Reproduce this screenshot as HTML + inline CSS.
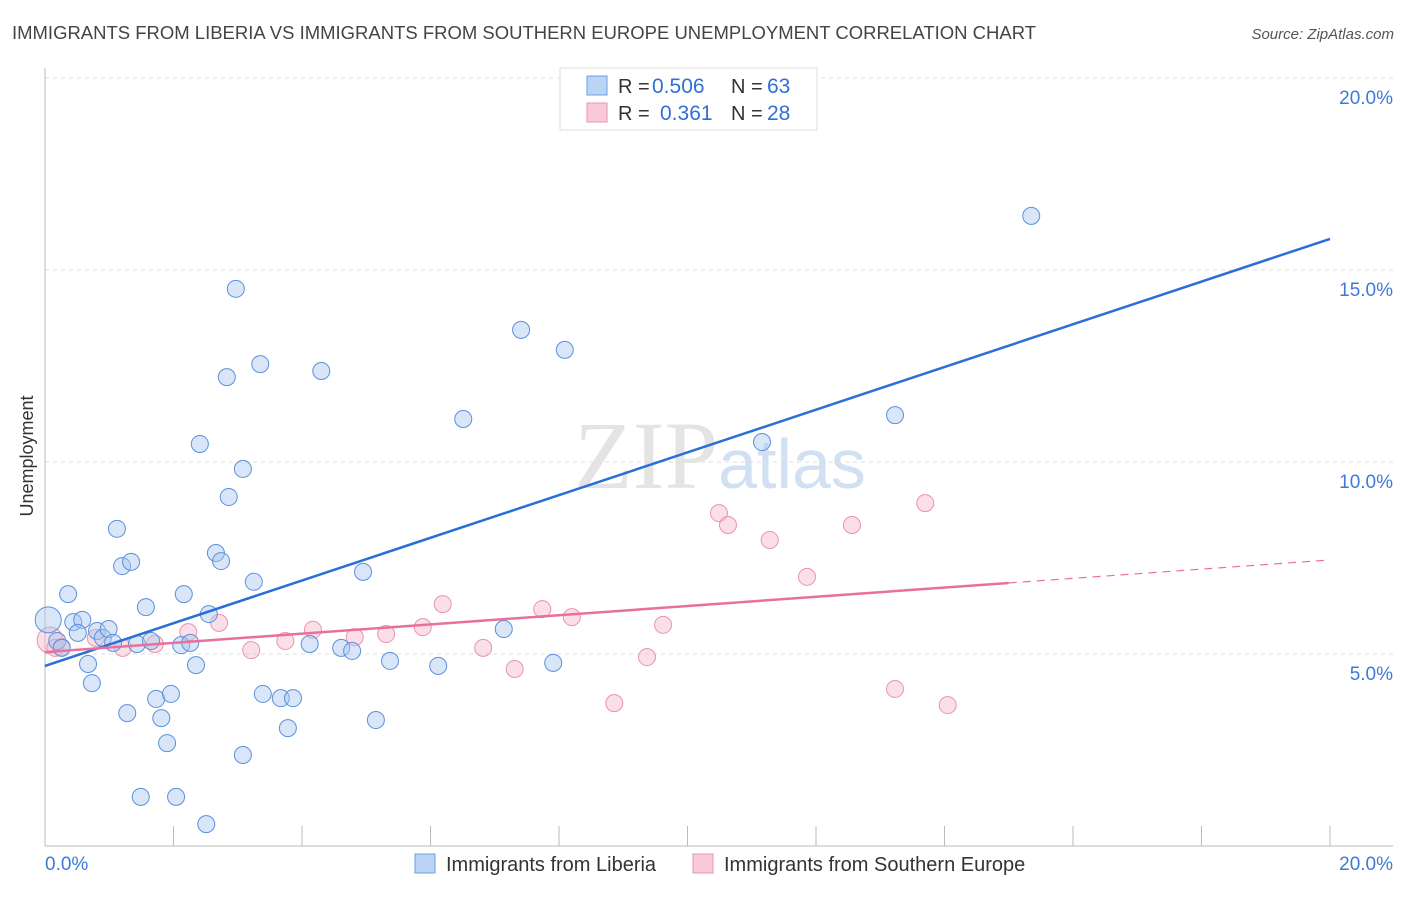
<!DOCTYPE html>
<html><head><meta charset="utf-8"><style>
body{margin:0;background:#fff;font-family:"Liberation Sans",sans-serif;}
</style></head><body>
<svg width="1406" height="892" xmlns="http://www.w3.org/2000/svg" font-family="Liberation Sans, sans-serif">
<text x="12" y="39" font-size="18" fill="#444" textLength="1024" lengthAdjust="spacingAndGlyphs">IMMIGRANTS FROM LIBERIA VS IMMIGRANTS FROM SOUTHERN EUROPE UNEMPLOYMENT CORRELATION CHART</text>
<text x="1394" y="39" font-size="15" fill="#555" font-style="italic" text-anchor="end">Source: ZipAtlas.com</text>
<text x="720" y="488" font-size="96" text-anchor="middle" font-family="Liberation Serif, serif" fill="#ddd" fill-opacity="0.8">ZIP<tspan fill="#c5d8ef" font-family="Liberation Sans, sans-serif" font-size="70">atlas</tspan></text>
<g id="grid"></g><g id="axes"></g><g id="marks"></g>
<text transform="translate(33,456) rotate(-90)" font-size="18" fill="#333" text-anchor="middle">Unemployment</text>
<g>
<rect x="560" y="68" width="257" height="62" fill="#fff" stroke="#ddd"/>
<rect x="587" y="76" width="20" height="19" fill="#b9d4f5" stroke="#6c9fe0"/>
<rect x="587" y="103" width="20" height="19" fill="#f9c9d7" stroke="#eb93ad"/>
<text x="618" y="93" font-size="20" fill="#333">R =</text>
<text x="652" y="93" font-size="21" fill="#2f6fd6">0.506</text>
<text x="731" y="93" font-size="20" fill="#333">N =</text>
<text x="767" y="93" font-size="21" fill="#2f6fd6">63</text>
<text x="618" y="120" font-size="20" fill="#333">R =</text>
<text x="660" y="120" font-size="21" fill="#2f6fd6">0.361</text>
<text x="731" y="120" font-size="20" fill="#333">N =</text>
<text x="767" y="120" font-size="21" fill="#2f6fd6">28</text>
</g>
<g>
<rect x="415" y="854" width="20" height="19" fill="#b9d4f5" stroke="#6c9fe0"/>
<text x="446" y="871" font-size="20" fill="#333">Immigrants from Liberia</text>
<rect x="693" y="854" width="20" height="19" fill="#f9c9d7" stroke="#eb93ad"/>
<text x="724" y="871" font-size="20" fill="#333">Immigrants from Southern Europe</text>
</g>
</svg>
<script>
const yTicks=[5,10,15,20];
const yTickLabels=["5.0%","10.0%","15.0%","20.0%"];
const xTickLabels=["0.0%","20.0%"];
const blueX=[0.05,0.19,0.26,0.44,0.58,0.51,0.36,0.67,0.73,0.81,0.90,0.99,1.06,1.12,1.20,1.34,1.28,1.43,1.49,1.57,1.65,1.73,1.81,1.90,1.96,2.04,2.12,2.16,2.26,2.35,2.41,2.51,2.55,2.66,2.74,2.83,2.86,2.97,3.08,3.08,3.25,3.35,3.39,3.67,3.78,3.86,4.12,4.30,4.61,4.78,4.95,5.15,5.37,6.12,6.51,7.14,7.41,7.91,8.09,11.16,13.23,15.35];
const blueY=[5.89,5.34,5.16,5.83,5.89,5.55,6.56,4.74,4.24,5.60,5.42,5.65,5.29,8.26,7.29,7.40,3.46,5.26,1.28,6.22,5.34,3.83,3.33,2.68,3.96,1.28,5.23,6.56,5.29,4.71,10.47,0.57,6.04,7.63,7.42,12.21,9.09,14.51,9.82,2.37,6.88,12.55,3.96,3.85,3.07,3.85,5.26,12.37,5.16,5.08,7.14,3.28,4.82,4.69,11.12,5.65,13.44,4.77,12.92,10.52,11.22,16.41];
const pinkX=[0.08,0.16,0.26,0.79,1.21,1.71,2.23,2.71,3.21,3.74,4.17,4.82,5.31,5.88,6.19,6.82,7.31,7.74,8.20,8.86,9.37,9.62,10.49,10.63,11.28,11.86,12.56,13.23,13.70,14.05];
const pinkY=[5.36,5.16,5.18,5.42,5.16,5.26,5.57,5.81,5.10,5.34,5.63,5.44,5.52,5.70,6.30,5.16,4.61,6.17,5.96,3.72,4.92,5.76,8.67,8.36,7.97,7.01,8.36,4.09,8.93,3.67];
const blueLine=[4.69,15.81];
const pinkLine=[5.05,7.45];
const pinkSolidEnd=15.0;
const NS="http://www.w3.org/2000/svg";
const sx=v=>45+v/20*1285, sy=v=>846-v/20*768;
function mk(p,t,a){const e=document.createElementNS(NS,t);for(const k in a)e.setAttribute(k,a[k]);p.appendChild(e);return e;}
const grid=document.getElementById('grid'),axes=document.getElementById('axes'),marks=document.getElementById('marks');
yTicks.forEach((t,i)=>{
 const l=mk(grid,'line',{x1:45,x2:1393,y1:sy(t),y2:sy(t),stroke:'#ddd','stroke-dasharray':'4,4'});
 
 
 const tx=mk(axes,'text',{x:1393,y:sy(t)+26,'font-size':19,fill:'#3d7ad8','text-anchor':'end'});
 tx.textContent=yTickLabels[i];
 
 
});
const ya=mk(axes,'line',{x1:45,x2:45,y1:68,y2:846,stroke:'#bbb'});


const xa=mk(axes,'line',{x1:45,x2:1393,y1:846,y2:846,stroke:'#bbb'});


for(let v=2;v<=20;v+=2){const t=mk(axes,'line',{x1:sx(v),x2:sx(v),y1:826,y2:846,stroke:'#bbb'});
 
 }
[[0,'start',45],[20,'end',1393]].forEach((d,i)=>{const t=mk(axes,'text',{x:d[2],y:870,'font-size':19,fill:'#3d7ad8','text-anchor':d[1]});t.textContent=xTickLabels[i];
 
 });
pinkX.forEach((x,i)=>{const c=mk(marks,'circle',{cx:sx(x),cy:sy(pinkY[i]),r:i==0?13:8.5,fill:'#f7b8cb','fill-opacity':0.45,stroke:'#eb93ad','stroke-width':1});
 
 });
blueX.forEach((x,i)=>{const c=mk(marks,'circle',{cx:sx(x),cy:sy(blueY[i]),r:i==0?13:8.5,fill:'#a8c8f0','fill-opacity':0.45,stroke:'#5b90dc','stroke-width':1});
 
 });
const bl=mk(marks,'line',{x1:sx(0),y1:sy(blueLine[0]),x2:sx(20),y2:sy(blueLine[1]),stroke:'#2a6fd6','stroke-width':2.5});


const pm=pinkLine[0]+(pinkLine[1]-pinkLine[0])*pinkSolidEnd/20;
const pl=mk(marks,'line',{x1:sx(0),y1:sy(pinkLine[0]),x2:sx(pinkSolidEnd),y2:sy(pm),stroke:'#e8709a','stroke-width':2.5});


const pd=mk(marks,'line',{x1:sx(pinkSolidEnd),y1:sy(pm),x2:sx(20),y2:sy(pinkLine[1]),stroke:'#e8709a','stroke-width':1.2,'stroke-dasharray':'8,6'});


</script>
</body></html>
